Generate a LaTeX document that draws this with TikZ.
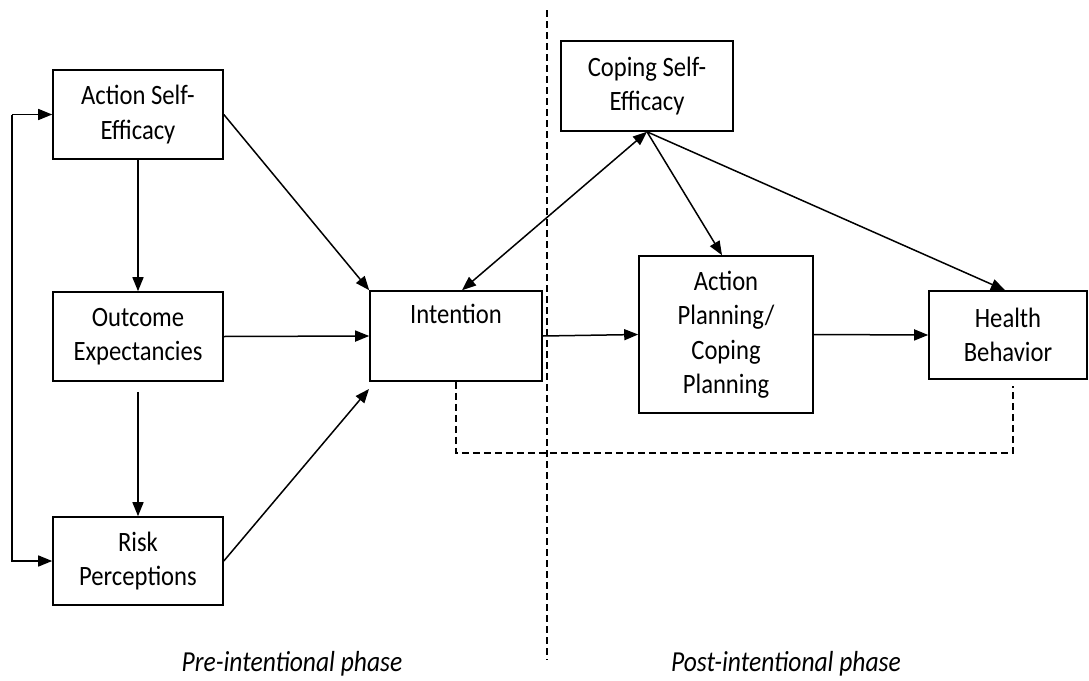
\documentclass[tikz,border=0pt]{standalone}
\usepackage{fontspec}
\setmainfont{Carlito}[FakeStretch=0.88]
\usetikzlibrary{arrows.meta,calc}
\begin{document}
\begin{tikzpicture}[x=1pt,y=-1pt,
  box/.style={draw,line width=1.6pt,inner sep=0pt,align=center,
    font=\fontsize{28}{34.5}\selectfont},
  arr/.style={line width=1.5pt,-{Triangle[length=14pt,width=11pt]}},
  darr/.style={line width=1.5pt,{Triangle[length=14pt,width=11pt]}-{Triangle[length=14pt,width=11pt]}},
  dashline/.style={line width=1.4pt,dash pattern=on 7pt off 4pt},
  phase/.style={font=\fontsize{29}{34}\selectfont\itshape}]
\useasboundingbox (0,0) rectangle (1089,680);
% boxes
\node[box,minimum width=170pt,minimum height=89pt] (ase) at (138,114.5) {Action Self-\\Efficacy};
\node[box,minimum width=170pt,minimum height=89pt] (oe) at (138,336.5) {Outcome\\Expectancies};
\node[box,minimum width=170pt,minimum height=88pt] (rp) at (138,561) {Risk\\Perceptions};
\node[box,minimum width=172pt,minimum height=90pt] (int) at (456,336) {Intention\\\strut};
\node[box,minimum width=172pt,minimum height=90pt] (cse) at (647,86) {Coping Self-\\Efficacy};
\node[box,minimum width=174pt,minimum height=157pt] (ap) at (726,334.5) {Action\\Planning/\\Coping\\Planning};
\node[box,minimum width=158pt,minimum height=88pt] (hb) at (1008,335) {Health\\Behavior};
% coordinates
\coordinate (fbx) at (12,0);
\coordinate (rpend) at (369,389);
\coordinate (dl) at (456,453);
\coordinate (dr) at (1013,453);
\coordinate (septop) at (547,10);
\coordinate (sepbot) at (547,660);
% phase separator
\draw[dashline] (septop) -- (sepbot);
% arrows
\draw[arr] (ase.south) -- (oe.north);
\draw[arr] ([yshift=-10pt]oe.south) -- (rp.north);
\draw[arr] (ase.east) -- (int.north west);
\draw[arr] (oe.east) -- (int.west);
\draw[arr] (rp.east) -- (rpend);
\draw[arr] (fbx |- ase.west) -- (ase.west);
\draw[arr] (fbx |- ase.west) -- (fbx |- rp.west) -- (rp.west);
\draw[darr] ([xshift=6pt]int.north) -- (cse.south);
\draw[arr] (cse.south) -- ([xshift=-4pt]ap.north);
\draw[arr] (cse.south) -- ([xshift=-3pt]hb.north);
\draw[arr] (int.east) -- (ap.west);
\draw[arr] (ap.east) -- (hb.west);
% feedback
\draw[dashline] (int.south) -- (dl) -- (dr) -- ([yshift=-6pt]dr |- hb.south);
% phase labels
\node[phase] (pre) at (292,664) {Pre-intentional phase};
\node[phase] (post) at (786,664) {Post-intentional phase};
\end{tikzpicture}
\end{document}
